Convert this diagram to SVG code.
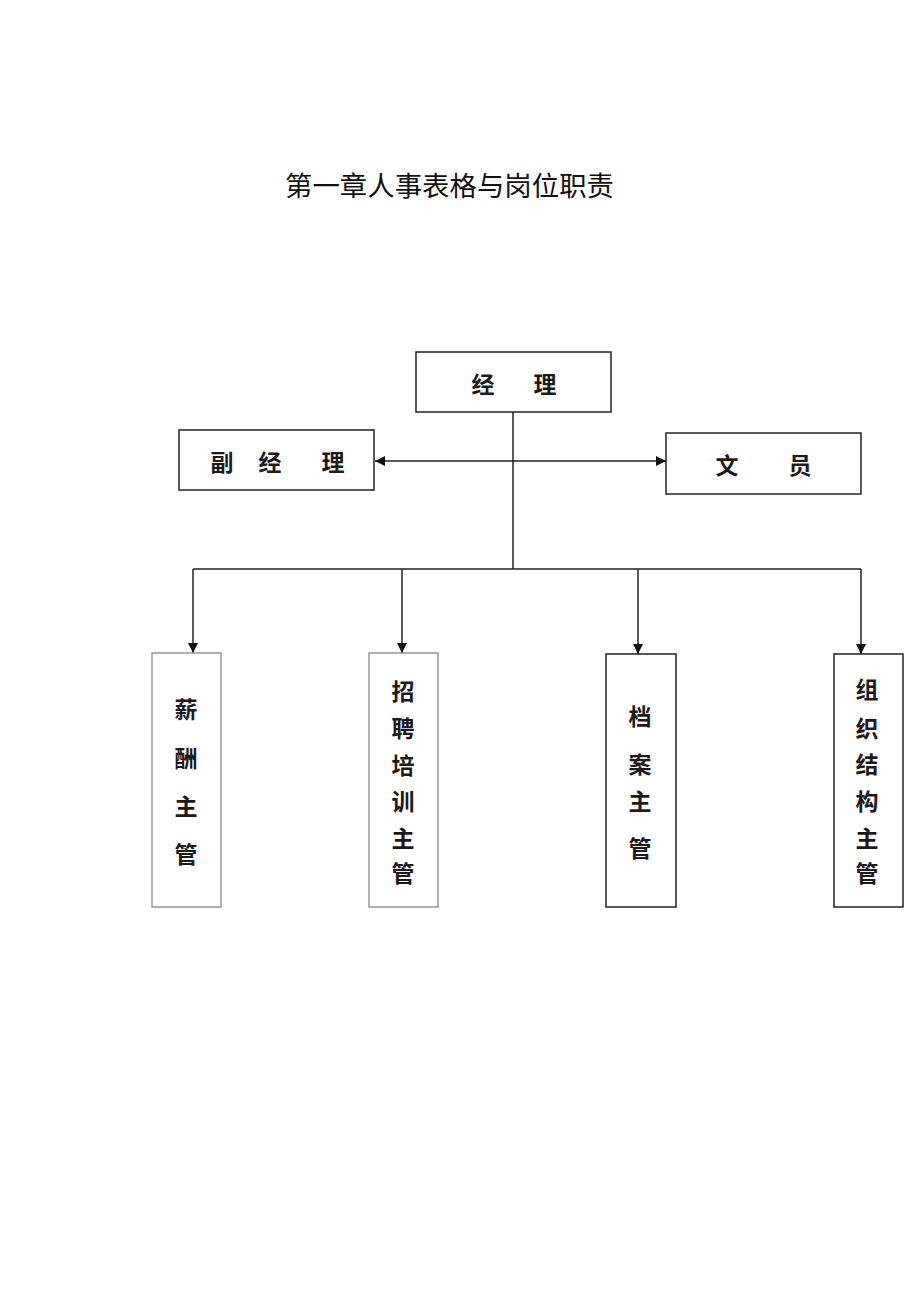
<svg xmlns="http://www.w3.org/2000/svg" width="920" height="1301" viewBox="0 0 920 1301">
<defs>
<marker id="ah" viewBox="0 0 10 10" refX="10" refY="5" markerWidth="10" markerHeight="10" markerUnits="userSpaceOnUse" orient="auto-start-reverse">
<path d="M0,0 L10,5 L0,10 Z" fill="#111"/>
</marker>
<style>
.box{fill:#fff;stroke:#222;stroke-width:1.5}
.lbox{fill:#fff;stroke:#888;stroke-width:1.3}
.t{font-family:"Noto Sans CJK SC","Noto Sans CJK JP",sans-serif;font-size:23px;font-weight:bold;fill:#1a1a1a;text-anchor:middle;dominant-baseline:central}
.title{font-family:"Noto Sans CJK SC",sans-serif;font-size:27px;font-weight:normal;fill:#111}
.ln{fill:none;stroke:#222;stroke-width:1.5}
</style>
</defs>
<rect width="920" height="1301" fill="#fff"/>
<text class="title" x="285" y="196" textLength="329" lengthAdjust="spacingAndGlyphs">第一章人事表格与岗位职责</text>
<g id="connectors">
<path class="ln" d="M513,412 V569"/>
<path class="ln" d="M193,569 H861"/>
<path class="ln" d="M375,461 H666" marker-start="url(#ah)" marker-end="url(#ah)"/>
<path class="ln" d="M193,569 V653" marker-end="url(#ah)"/>
<path class="ln" d="M402,569 V653" marker-end="url(#ah)"/>
<path class="ln" d="M638,569 V654" marker-end="url(#ah)"/>
<path class="ln" d="M861,569 V654" marker-end="url(#ah)"/>
</g>
<g id="manager">
<rect class="box" x="416" y="352" width="195" height="60"/>
<text class="t" x="483" y="383">经</text><text class="t" x="545" y="383">理</text>
</g>
<g id="deputy">
<rect class="box" x="179" y="430" width="195" height="60"/>
<text class="t" x="222" y="461">副</text><text class="t" x="270" y="461">经</text><text class="t" x="333" y="461">理</text>
</g>
<g id="clerk">
<rect class="box" x="666" y="433" width="195" height="61"/>
<text class="t" x="727" y="464">文</text><text class="t" x="800" y="464">员</text>
</g>
<g id="salary">
<rect class="lbox" x="152" y="653" width="69" height="254"/>
<text class="t" x="186" y="708">薪</text><text class="t" x="186" y="757">酬</text><text class="t" x="186" y="805">主</text><text class="t" x="186" y="853">管</text>
</g>
<g id="recruit">
<rect class="lbox" x="369" y="653" width="69" height="254"/>
<text class="t" x="403" y="690">招</text><text class="t" x="403" y="727">聘</text><text class="t" x="403" y="764">培</text><text class="t" x="403" y="800">训</text><text class="t" x="403" y="837">主</text><text class="t" x="403" y="872">管</text>
</g>
<g id="archive">
<rect class="box" x="606" y="654" width="70" height="253"/>
<text class="t" x="640" y="715">档</text><text class="t" x="640" y="763">案</text><text class="t" x="640" y="800">主</text><text class="t" x="640" y="847">管</text>
</g>
<g id="org">
<rect class="box" x="834" y="654" width="69" height="253"/>
<text class="t" x="867" y="688">组</text><text class="t" x="867" y="727">织</text><text class="t" x="867" y="763">结</text><text class="t" x="867" y="800">构</text><text class="t" x="867" y="837">主</text><text class="t" x="867" y="872">管</text>
</g>
</svg>
